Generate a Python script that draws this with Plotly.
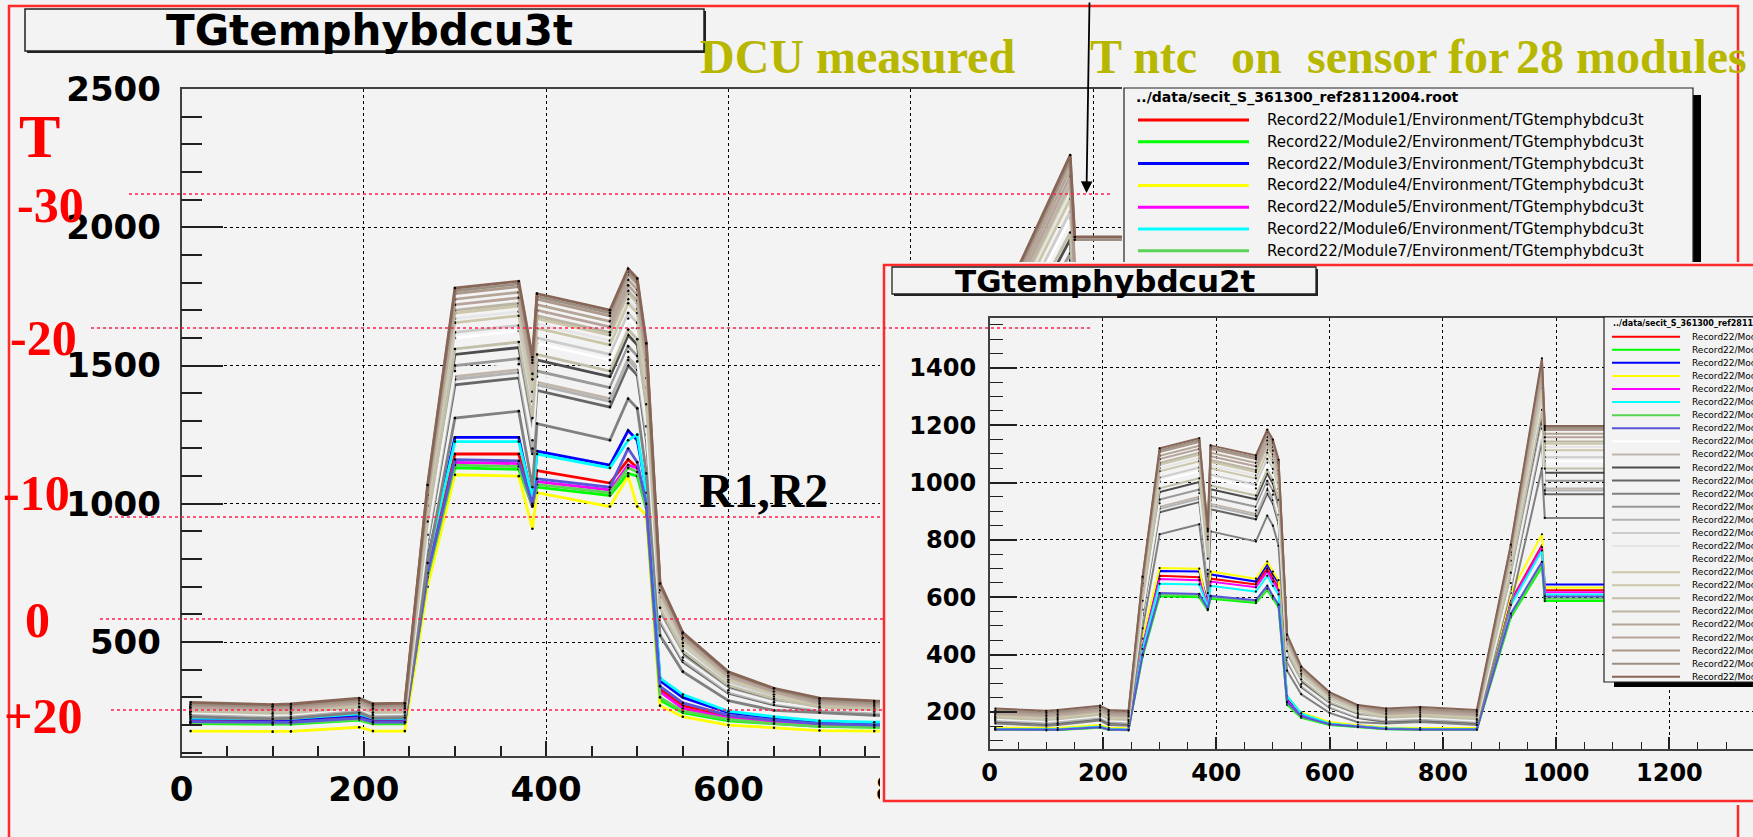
import plotly.graph_objects as go

W, H = 1753, 837

# ---------------- data ----------------
x_time = [10, 100, 120, 195, 210, 245, 270, 300, 370, 385, 390, 470, 490, 500, 510,
          525, 550, 600, 650, 700, 760, 860, 920, 975, 980, 1100]

# TGtemphybdcu3t (main plot), modules 1..27
m01 = [215, 212, 213, 228, 214, 214, 760, 1180, 1180, 1000, 1120, 1075, 1160, 1130, 1000, 330, 270, 230, 215, 205, 200, 205, 1020, 1360, 1085, 1085]
m02 = [205, 202, 203, 218, 204, 204, 730, 1130, 1125, 990, 1060, 1030, 1110, 1100, 980, 290, 245, 215, 205, 195, 192, 195, 975, 1300, 1040, 1040]
m03 = [222, 219, 220, 236, 221, 221, 800, 1240, 1240, 1010, 1190, 1140, 1265, 1230, 1050, 360, 300, 245, 225, 210, 205, 210, 1070, 1425, 1140, 1140]
m04 = [178, 176, 177, 192, 178, 178, 700, 1105, 1100, 910, 1040, 990, 1100, 990, 960, 270, 230, 200, 190, 180, 178, 180, 960, 1270, 1015, 1015]
m05 = [210, 207, 208, 223, 209, 209, 740, 1150, 1145, 990, 1080, 1050, 1140, 1130, 990, 320, 260, 225, 210, 200, 197, 200, 995, 1320, 1060, 1060]
m06 = [225, 222, 223, 240, 224, 224, 790, 1225, 1225, 1020, 1180, 1130, 1230, 1250, 1040, 370, 310, 250, 230, 215, 210, 214, 1060, 1410, 1125, 1125]
m07 = [208, 205, 206, 220, 207, 207, 735, 1140, 1135, 995, 1070, 1040, 1130, 1115, 985, 300, 250, 220, 205, 195, 193, 196, 985, 1310, 1050, 1050]
m08 = [212, 209, 210, 225, 211, 211, 750, 1160, 1155, 1000, 1090, 1060, 1200, 1150, 1000, 340, 280, 235, 218, 205, 200, 204, 1005, 1335, 1065, 1065]
m09 = [250, 242, 244, 265, 245, 247, 960, 1600, 1625, 1350, 1580, 1520, 1670, 1635, 1400, 640, 480, 352, 302, 265, 255, 250, 1680, 2032, 1700, 1700]
m10 = [240, 232, 234, 255, 235, 237, 876, 1460, 1485, 1210, 1440, 1380, 1530, 1495, 1260, 584, 438, 321, 278, 255, 245, 240, 1533, 1854, 1560, 1560]
m11 = [255, 247, 249, 270, 250, 252, 924, 1540, 1565, 1290, 1520, 1460, 1610, 1575, 1340, 616, 462, 339, 292, 270, 260, 255, 1617, 1956, 1640, 1640]
m12 = [235, 227, 229, 250, 230, 232, 858, 1430, 1455, 1180, 1410, 1350, 1500, 1465, 1230, 572, 429, 315, 273, 250, 240, 235, 1502, 1816, 1530, 1530]
m13 = [230, 222, 224, 245, 225, 227, 786, 1310, 1335, 1060, 1290, 1230, 1380, 1345, 1110, 524, 393, 288, 253, 245, 235, 230, 1376, 1664, 1400, 1400]
m14 = [245, 237, 239, 260, 240, 242, 900, 1500, 1525, 1250, 1480, 1420, 1570, 1535, 1300, 600, 450, 330, 285, 260, 250, 245, 1575, 1905, 1600, 1600]
m15 = [240, 232, 234, 255, 235, 237, 870, 1450, 1475, 1200, 1430, 1370, 1520, 1485, 1250, 580, 435, 319, 277, 255, 245, 240, 1523, 1842, 1550, 1550]
m16 = [250, 242, 244, 265, 245, 247, 972, 1620, 1645, 1370, 1600, 1540, 1690, 1655, 1420, 648, 486, 356, 305, 265, 255, 250, 1701, 2057, 1720, 1720]
m17 = [255, 247, 249, 270, 250, 252, 1002, 1670, 1695, 1420, 1650, 1590, 1740, 1705, 1470, 668, 501, 367, 314, 270, 260, 255, 1754, 2121, 1775, 1775]
m18 = [245, 237, 239, 260, 240, 242, 888, 1480, 1505, 1230, 1460, 1400, 1550, 1515, 1280, 592, 444, 326, 282, 260, 250, 245, 1554, 1880, 1580, 1580]
m19 = [260, 252, 254, 275, 255, 257, 1014, 1690, 1715, 1440, 1670, 1610, 1760, 1725, 1490, 676, 507, 372, 317, 275, 265, 260, 1775, 2146, 1790, 1790]
m20 = [255, 247, 249, 270, 250, 252, 993, 1655, 1680, 1405, 1635, 1575, 1725, 1690, 1455, 662, 497, 364, 311, 270, 260, 255, 1738, 2102, 1760, 1760]
m21 = [250, 242, 244, 265, 245, 247, 936, 1560, 1585, 1310, 1540, 1480, 1630, 1595, 1360, 624, 468, 343, 295, 265, 255, 250, 1638, 1981, 1680, 1680]
m22 = [262, 254, 256, 277, 257, 259, 1020, 1700, 1725, 1450, 1680, 1620, 1770, 1735, 1500, 680, 510, 374, 319, 277, 267, 262, 1785, 2159, 1800, 1800]
m23 = [268, 260, 262, 283, 263, 265, 1044, 1740, 1765, 1490, 1720, 1660, 1810, 1775, 1540, 696, 522, 383, 326, 283, 273, 268, 1827, 2210, 1830, 1830]
m24 = [265, 257, 259, 280, 260, 262, 1032, 1720, 1745, 1470, 1700, 1640, 1790, 1755, 1520, 688, 516, 378, 322, 280, 270, 265, 1806, 2184, 1820, 1820]
m25 = [272, 264, 266, 287, 267, 269, 1056, 1760, 1785, 1510, 1740, 1680, 1830, 1795, 1560, 704, 528, 387, 329, 287, 277, 272, 1848, 2235, 1840, 1840]
m26 = [276, 268, 270, 291, 271, 273, 1062, 1770, 1795, 1520, 1750, 1690, 1840, 1805, 1570, 708, 531, 389, 331, 291, 281, 276, 1859, 2248, 1955, 1955]
m27 = [282, 274, 276, 297, 277, 279, 1068, 1780, 1805, 1530, 1760, 1700, 1850, 1815, 1580, 712, 534, 392, 333, 297, 287, 282, 1869, 2261, 1965, 1965]

# TGtemphybdcu2t (inset), modules 1..27
n01 = [140, 138, 139, 148, 140, 138, 440, 675, 670, 575, 665, 645, 700, 665, 635, 245, 190, 160, 150, 142, 140, 140, 587, 782, 625, 625]
n02 = [138, 136, 137, 145, 138, 136, 393, 604, 600, 555, 595, 580, 625, 595, 565, 225, 180, 155, 147, 140, 138, 138, 530, 706, 587, 587]
n03 = [142, 140, 141, 150, 142, 140, 450, 692, 690, 580, 680, 655, 715, 680, 650, 250, 195, 162, 152, 144, 142, 142, 578, 770, 645, 645]
n04 = [145, 143, 144, 155, 145, 143, 456, 702, 700, 560, 690, 665, 725, 690, 660, 255, 198, 165, 154, 146, 144, 144, 615, 820, 634, 634]
n05 = [140, 138, 139, 148, 140, 138, 432, 664, 660, 570, 655, 635, 690, 655, 625, 240, 188, 158, 149, 142, 140, 140, 581, 775, 618, 618]
n06 = [141, 139, 140, 149, 141, 139, 420, 647, 645, 565, 640, 620, 675, 640, 610, 256, 195, 160, 150, 143, 141, 141, 572, 763, 610, 610]
n07 = [139, 137, 138, 146, 139, 137, 397, 610, 606, 558, 600, 585, 630, 600, 570, 230, 182, 156, 148, 141, 139, 139, 536, 715, 595, 595]
n08 = [139, 137, 138, 147, 139, 137, 400, 615, 612, 560, 605, 590, 640, 605, 575, 235, 185, 157, 148, 141, 139, 139, 543, 724, 603, 603]
n09 = [180, 172, 175, 190, 175, 172, 603, 1005, 1040, 754, 1015, 980, 1070, 1035, 965, 422, 322, 241, 201, 180, 185, 175, 704, 1286, 1075, 1075]
n10 = [170, 162, 165, 180, 165, 162, 550, 916, 951, 687, 926, 891, 981, 946, 876, 385, 293, 220, 183, 170, 175, 165, 641, 1172, 980, 980]
n11 = [185, 177, 180, 195, 180, 177, 580, 967, 1002, 725, 977, 942, 1032, 997, 927, 406, 309, 232, 193, 185, 190, 180, 677, 1238, 1035, 1035]
n12 = [165, 157, 160, 175, 160, 157, 538, 897, 932, 673, 907, 872, 962, 927, 857, 377, 287, 215, 179, 165, 170, 160, 628, 1148, 960, 960]
n13 = [160, 152, 155, 170, 155, 152, 492, 820, 855, 615, 830, 795, 885, 850, 780, 344, 262, 197, 164, 160, 165, 155, 574, 1050, 877, 877]
n14 = [175, 167, 170, 185, 170, 167, 565, 941, 976, 706, 951, 916, 1006, 971, 901, 395, 301, 226, 188, 175, 180, 170, 659, 1204, 1007, 1007]
n15 = [170, 162, 165, 180, 165, 162, 545, 909, 944, 682, 919, 884, 974, 939, 869, 382, 291, 218, 182, 170, 175, 165, 636, 1164, 973, 973]
n16 = [180, 172, 175, 190, 175, 172, 611, 1018, 1053, 764, 1028, 993, 1083, 1048, 978, 428, 326, 244, 204, 180, 185, 175, 713, 1303, 1089, 1089]
n17 = [185, 177, 180, 195, 180, 177, 630, 1050, 1085, 788, 1060, 1025, 1115, 1080, 1010, 441, 336, 252, 210, 185, 190, 180, 735, 1344, 1124, 1124]
n18 = [175, 167, 170, 185, 170, 167, 557, 928, 963, 696, 938, 903, 993, 958, 888, 390, 297, 223, 186, 175, 180, 170, 650, 1188, 993, 993]
n19 = [190, 182, 185, 200, 185, 182, 637, 1062, 1097, 797, 1072, 1037, 1127, 1092, 1022, 446, 340, 255, 212, 190, 195, 185, 743, 1359, 1136, 1136]
n20 = [185, 177, 180, 195, 180, 177, 624, 1040, 1075, 780, 1050, 1015, 1105, 1070, 1000, 437, 333, 250, 208, 185, 190, 180, 728, 1331, 1113, 1113]
n21 = [180, 172, 175, 190, 175, 172, 588, 980, 1015, 735, 990, 955, 1045, 1010, 940, 412, 314, 235, 196, 180, 185, 175, 686, 1254, 1049, 1049]
n22 = [192, 184, 187, 202, 187, 184, 641, 1069, 1104, 802, 1079, 1044, 1134, 1099, 1029, 449, 342, 257, 214, 192, 197, 187, 748, 1368, 1144, 1144]
n23 = [198, 190, 193, 208, 193, 190, 656, 1094, 1129, 821, 1104, 1069, 1159, 1124, 1054, 459, 350, 263, 219, 198, 203, 193, 766, 1400, 1171, 1171]
n24 = [195, 187, 190, 205, 190, 187, 649, 1082, 1117, 812, 1092, 1057, 1147, 1112, 1042, 454, 346, 260, 216, 195, 200, 190, 757, 1385, 1158, 1158]
n25 = [202, 194, 197, 212, 197, 194, 664, 1107, 1142, 830, 1117, 1082, 1172, 1137, 1067, 465, 354, 266, 221, 202, 207, 197, 775, 1417, 1184, 1184]
n26 = [206, 198, 201, 216, 201, 198, 668, 1113, 1148, 835, 1123, 1088, 1178, 1143, 1073, 467, 356, 267, 223, 206, 211, 201, 779, 1425, 1191, 1191]
n27 = [212, 204, 207, 222, 207, 204, 672, 1120, 1155, 840, 1130, 1095, 1185, 1150, 1080, 470, 358, 269, 224, 212, 217, 207, 784, 1434, 1198, 1198]

main_series = [m01, m02, m03, m04, m05, m06, m07, m08, m09, m10, m11, m12, m13, m14,
               m15, m16, m17, m18, m19, m20, m21, m22, m23, m24, m25, m26, m27]
inset_series = [n01, n02, n03, n04, n05, n06, n07, n08, n09, n10, n11, n12, n13, n14,
                n15, n16, n17, n18, n19, n20, n21, n22, n23, n24, n25, n26, n27]

module_numbers = list(range(1, 28))
main_labels = [f"Record22/Module{i}/Environment/TGtemphybdcu3t" for i in module_numbers]
inset_labels = [f"Record22/Module{i}/Environment/TGtemphybdcu2t" for i in module_numbers]
legend_header = "../data/secit_S_361300_ref28112004.root"

main_xticks = [0, 200, 400, 600, 800, 1000, 1200, 1400]
main_xtext = ["0", "200", "400", "600", "800", "", "", ""]
main_yticks = [500, 1000, 1500, 2000, 2500]
temp_labels = ["-30", "-20", "-10", "0", "+20"]

# ROOT colour indices 2..28
colors = ["#ff0000", "#00ff00", "#0000ff", "#ffff00", "#ff00ff", "#00ffff", "#59d454",
          "#5954d9", "#ffffff", "#c0b6ac", "#4d4d4d", "#666666", "#808080", "#999999",
          "#b3b3b3", "#cccccc", "#e6e6e6", "#f2f2f2", "#ccc7ab", "#ccc7ab", "#c2bfa8",
          "#bab5a3", "#b3a696", "#b8a39c", "#ad998c", "#9c8f82", "#876657"]

BG = "#f3f3f3"


def fx(p):
    return p / W


def fy(p):
    return 1 - p / H


fig = go.Figure()

# main plot traces
for ys, c in zip(main_series, colors):
    fig.add_trace(go.Scatter(x=x_time, y=ys, mode="lines+markers", xaxis="x", yaxis="y",
                             line=dict(color=c, width=2.8),
                             marker=dict(color="black", size=2.6, line=dict(width=0)),
                             showlegend=False, hoverinfo="skip"))

# dummy traces for panels (legend panel, inset cover, inset legend)
for ax in ["2", "3", "5"]:
    fig.add_trace(go.Scatter(x=[None], y=[None], xaxis="x" + ax, yaxis="y" + ax,
                             showlegend=False, hoverinfo="skip"))

# inset traces
for ys, c in zip(inset_series, colors):
    fig.add_trace(go.Scatter(x=x_time, y=ys, mode="lines+markers", xaxis="x4", yaxis="y4",
                             line=dict(color=c, width=2),
                             marker=dict(color="black", size=2.2, line=dict(width=0)),
                             showlegend=False, hoverinfo="skip"))

tickfont_main = dict(family="DejaVu Sans", size=34, color="black", weight="bold")
tickfont_inset = dict(family="DejaVu Sans", size=24, color="black", weight="bold")

axis_common = dict(showgrid=True, gridcolor="black", griddash="dot", gridwidth=1,
                   showline=True, linecolor="#404040", linewidth=1.6, automargin=False,
                   ticks="inside", tickcolor="#202020", tickwidth=1.5, zeroline=False)

hidden = dict(visible=False, showgrid=False, zeroline=False, fixedrange=True, automargin=False)

main_x0, main_x1, main_y0, main_y1 = 181.5, 1457.6, 89, 756
ins_x0, ins_y0, ins_y1 = 989.7, 318, 748.6

fig.update_layout(
    width=W, height=H, margin=dict(l=0, r=0, t=0, b=0, pad=0, autoexpand=False),
    paper_bgcolor=BG, plot_bgcolor=BG, showlegend=False,
    xaxis=dict(domain=[fx(main_x0), fx(main_x1)], range=[0, 1400], anchor="y",
               tickvals=main_xticks, ticktext=main_xtext, ticklen=15, mirror=True,
               tickfont=tickfont_main, ticklabelstandoff=2,
               minor=dict(ticks="inside", ticklen=10, dtick=50, tick0=0, tickcolor="#202020",
                          tickwidth=1.5, showgrid=False),
               **axis_common),
    yaxis=dict(domain=[fy(main_y1), fy(main_y0)], range=[88, 2500], anchor="x",
               tickvals=main_yticks, ticklen=42, mirror=False, tickfont=tickfont_main,
               ticklabelstandoff=12,
               minor=dict(ticks="inside", ticklen=21, dtick=100, tick0=0, tickcolor="#202020",
                          tickwidth=1.5, showgrid=False),
               **axis_common),
    xaxis2=dict(domain=[fx(1122), fx(1706)], range=[1122, 1706], anchor="y2", **hidden),
    yaxis2=dict(domain=[fy(300), fy(85)], range=[300, 85], anchor="x2", **hidden),
    xaxis3=dict(domain=[fx(880), 1.0], range=[880, W], anchor="y3", **hidden),
    yaxis3=dict(domain=[fy(805), fy(262)], range=[805, 262], anchor="x3", **hidden),
    xaxis4=dict(domain=[fx(ins_x0), 1.0], range=[0, 1347.6], anchor="y4",
                dtick=200, tick0=0, ticklen=12, mirror=True, tickfont=tickfont_inset,
                ticklabelstandoff=2,
                minor=dict(ticks="inside", ticklen=7, dtick=50, tick0=0, tickcolor="#202020",
                           tickwidth=1.2, showgrid=False),
                **axis_common),
    yaxis4=dict(domain=[fy(ins_y1), fy(ins_y0)], range=[72.3, 1574.4], anchor="x4",
                dtick=200, tick0=0, ticklen=27, mirror=False, tickfont=tickfont_inset,
                ticklabelstandoff=7,
                minor=dict(ticks="inside", ticklen=13, dtick=50, tick0=0, tickcolor="#202020",
                           tickwidth=1.2, showgrid=False),
                **axis_common),
    xaxis5=dict(domain=[fx(1602), 1.0], range=[1602, W], anchor="y5", **hidden),
    yaxis5=dict(domain=[fy(690), fy(314)], range=[690, 314], anchor="x5", **hidden),
)

shapes = []
annotations = []

# outer red slide frame
shapes.append(dict(type="rect", xref="paper", yref="paper", layer="below",
                   x0=fx(9), x1=fx(1738), y0=fy(860), y1=fy(6),
                   line=dict(color="#ff2a2a", width=2.5), fillcolor="rgba(0,0,0,0)"))

# main title box
shapes.append(dict(type="rect", xref="paper", yref="paper", layer="below",
                   x0=fx(27), x1=fx(706), y0=fy(53), y1=fy(11),
                   line=dict(width=0), fillcolor="#222222"))
shapes.append(dict(type="rect", xref="paper", yref="paper", layer="below",
                   x0=fx(25), x1=fx(704), y0=fy(51), y1=fy(9),
                   line=dict(color="#222222", width=1.5), fillcolor=BG))
annotations.append(dict(xref="paper", yref="paper", x=fx(369), y=fy(31), text="TGtemphybdcu3t",
                        showarrow=False, xanchor="center", yanchor="middle",
                        font=dict(family="DejaVu Sans", size=42, color="black", weight="bold")))

# main legend box
shapes.append(dict(type="rect", xref="x2", yref="y2", layer="below",
                   x0=1693, x1=1701, y0=95, y1=400, line=dict(width=0), fillcolor="black"))
shapes.append(dict(type="rect", xref="x2", yref="y2", layer="below",
                   x0=1124, x1=1693, y0=88, y1=400, line=dict(color="#222222", width=1.2),
                   fillcolor=BG))
annotations.append(dict(xref="paper", yref="paper", x=fx(1134), y=fy(97), text=legend_header,
                        showarrow=False, xanchor="left", yanchor="middle",
                        font=dict(family="DejaVu Sans", size=14, color="black", weight="bold")))
for i in range(7):
    yy = 120 + 21.8 * i
    shapes.append(dict(type="line", xref="x2", yref="y2", layer="below",
                       x0=1138, x1=1249, y0=yy, y1=yy, line=dict(color=colors[i], width=3)))
    annotations.append(dict(xref="paper", yref="paper", x=fx(1265), y=fy(yy), text=main_labels[i],
                            showarrow=False, xanchor="left", yanchor="middle",
                            font=dict(family="DejaVu Sans", size=15, color="black")))

# inset panel: red frame and title box
shapes.append(dict(type="rect", xref="x3", yref="y3", layer="below",
                   x0=884, x1=1770, y0=265, y1=801,
                   line=dict(color="#ff2a2a", width=2.5), fillcolor="rgba(0,0,0,0)"))
shapes.append(dict(type="rect", xref="x3", yref="y3", layer="below",
                   x0=894, x1=1318, y0=269, y1=296, line=dict(width=0), fillcolor="#222222"))
shapes.append(dict(type="rect", xref="x3", yref="y3", layer="below",
                   x0=892, x1=1316, y0=267, y1=294, line=dict(color="#222222", width=1.3),
                   fillcolor=BG))
annotations.append(dict(xref="paper", yref="paper", x=fx(1105), y=fy(281), text="TGtemphybdcu2t",
                        showarrow=False, xanchor="center", yanchor="middle",
                        font=dict(family="DejaVu Sans", size=31, color="black", weight="bold")))

# inset legend
shapes.append(dict(type="rect", xref="x5", yref="y5", layer="below",
                   x0=1614, x1=1770, y0=682, y1=687, line=dict(width=0), fillcolor="black"))
shapes.append(dict(type="rect", xref="x5", yref="y5", layer="below",
                   x0=1604, x1=1770, y0=317, y1=682, line=dict(color="#222222", width=1.2),
                   fillcolor=BG))
annotations.append(dict(xref="paper", yref="paper", x=fx(1611), y=fy(323), text=legend_header,
                        showarrow=False, xanchor="left", yanchor="middle",
                        font=dict(family="DejaVu Sans", size=8, color="black", weight="bold")))
for i in range(len(colors)):
    yy = 336.7 + 13.08 * i
    shapes.append(dict(type="line", xref="x5", yref="y5", layer="below",
                       x0=1612, x1=1680, y0=yy, y1=yy, line=dict(color=colors[i], width=2)))
    annotations.append(dict(xref="paper", yref="paper", x=fx(1690), y=fy(yy), text=inset_labels[i],
                            showarrow=False, xanchor="left", yanchor="middle",
                            font=dict(family="DejaVu Sans", size=9, color="black")))

# red dotted temperature lines
red_lines = [(194, 129, 1110), (328, 91, 1092), (517, 109, 884), (619, 100, 884), (710, 111, 884)]
for yy, xa, xb in red_lines:
    shapes.append(dict(type="line", xref="paper", yref="paper", layer="above",
                       x0=fx(xa), x1=fx(xb), y0=fy(yy), y1=fy(yy),
                       line=dict(color="#ff2050", width=1.5, dash="dot")))

# red temperature labels
serif = "Liberation Serif"
annotations.append(dict(xref="paper", yref="paper", x=fx(39), y=fy(136), text="T",
                        showarrow=False, xanchor="center", yanchor="middle",
                        font=dict(family=serif, size=62, color="#ff0000", weight="bold")))
temp_pos = [(50, 205), (43, 338), (36, 493), (37, 620), (43, 716)]
for lab, (xx, yy) in zip(temp_labels, temp_pos):
    annotations.append(dict(xref="paper", yref="paper", x=fx(xx), y=fy(yy), text=lab,
                            showarrow=False, xanchor="center", yanchor="middle",
                            font=dict(family=serif, size=50, color="#ff0000", weight="bold")))

# olive headline
olive = "#b7b700"
for txt, xl in [("DCU measured", 698), ("T ntc", 1088), ("on", 1229), ("sensor", 1305),
                ("for", 1446), ("28", 1514), ("modules", 1574)]:
    annotations.append(dict(xref="paper", yref="paper", x=fx(xl), y=fy(57), text=txt,
                            showarrow=False, xanchor="left", yanchor="middle",
                            font=dict(family=serif, size=48, color=olive, weight="bold")))

# R1,R2 label
annotations.append(dict(xref="paper", yref="paper", x=fx(697), y=fy(491), text="R1,R2",
                        showarrow=False, xanchor="left", yanchor="middle",
                        font=dict(family=serif, size=48, color="black", weight="bold")))

# arrow
annotations.append(dict(xref="paper", yref="paper", x=fx(1086.5), y=fy(193), text="",
                        showarrow=True, ax=3, ay=-192, arrowhead=2, arrowsize=1.3,
                        arrowwidth=1.8, arrowcolor="black", standoff=0, startstandoff=0))

fig.update_layout(shapes=shapes, annotations=annotations)

fig.write_html("out.html")
